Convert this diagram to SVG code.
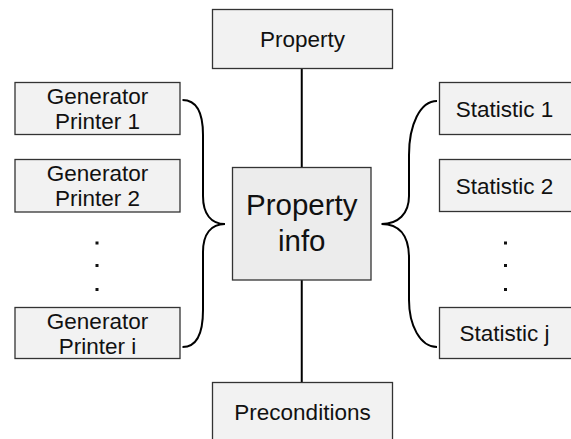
<svg xmlns="http://www.w3.org/2000/svg" width="571" height="439" viewBox="0 0 571 439">
<style>
.box{fill:#f2f2f2;stroke:#333;stroke-width:1.3}
.big{fill:#ececec;stroke:#333;stroke-width:1.3}
.t{font-family:"Liberation Sans",Arial,sans-serif;font-size:22.5px;fill:#111;text-anchor:middle}
.tb{font-family:"Liberation Sans",Arial,sans-serif;font-size:29.5px;fill:#111;text-anchor:middle}
.c{fill:none;stroke:#000;stroke-width:2}
.d{fill:#111}
</style>
<rect width="571" height="439" fill="#fff"/>
<g id="connectors">
<line class="c" x1="301.75" y1="68" x2="301.75" y2="167.5"/>
<line class="c" x1="301.75" y1="280" x2="301.75" y2="382.5"/>
<path class="c" d="M182.5,100 C196,100 203,112 203,135 L203,196 C203,214 211,224 225,224 C211,224 203,234 203,252 L203,310 C203,334 196,347 182.5,347"/>
<path class="c" d="M437,101 C420,101 409,125 409,155 L409,196 C409,214 398,224 381.5,224 C398,224 409,234 409,258 L409,300 C409,325 420,347 437,347"/>
</g>
<g id="property">
<rect class="box" x="212.5" y="9.5" width="180" height="59"/>
<text class="t" x="302.5" y="46.8">Property</text>
</g>
<g id="property-info">
<rect class="big" x="232.5" y="167.5" width="138.5" height="112.5"/>
<text class="tb" x="301.75" y="215">Property</text>
<text class="tb" x="301.75" y="251">info</text>
</g>
<g id="preconditions">
<rect class="box" x="212.5" y="382.5" width="180" height="70"/>
<text class="t" x="302.5" y="420">Preconditions</text>
</g>
<g id="gen1">
<rect class="box" x="15" y="82.5" width="165" height="52"/>
<text class="t" x="97.5" y="104.3">Generator</text>
<text class="t" x="97.5" y="129.3">Printer 1</text>
</g>
<g id="gen2">
<rect class="box" x="15" y="159.5" width="165" height="52.5"/>
<text class="t" x="97.5" y="181.3">Generator</text>
<text class="t" x="97.5" y="206.3">Printer 2</text>
</g>
<g id="gen-dots">
<rect class="d" x="95.5" y="241.5" width="3" height="3"/>
<rect class="d" x="95.5" y="264" width="3" height="3"/>
<rect class="d" x="95.5" y="288" width="3" height="3"/>
</g>
<g id="geni">
<rect class="box" x="15" y="307.5" width="165" height="51"/>
<text class="t" x="97.5" y="329">Generator</text>
<text class="t" x="97.5" y="354">Printer i</text>
</g>
<g id="stat1">
<rect class="box" x="439.5" y="82.5" width="140" height="52"/>
<text class="t" x="504.5" y="116.5">Statistic 1</text>
</g>
<g id="stat2">
<rect class="box" x="439.5" y="159.5" width="140" height="52"/>
<text class="t" x="504.5" y="193.5">Statistic 2</text>
</g>
<g id="stat-dots">
<rect class="d" x="504" y="241.5" width="3" height="3"/>
<rect class="d" x="504" y="264" width="3" height="3"/>
<rect class="d" x="504" y="288" width="3" height="3"/>
</g>
<g id="statj">
<rect class="box" x="439.5" y="307.5" width="140" height="51"/>
<text class="t" x="504.5" y="341">Statistic j</text>
</g>
</svg>
